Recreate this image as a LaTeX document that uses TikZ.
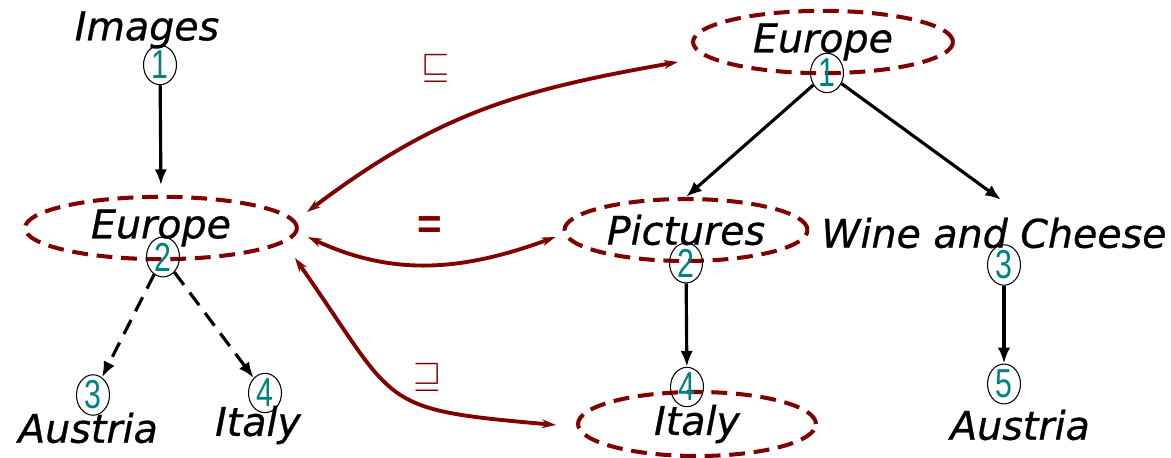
\documentclass[tikz,border=0pt]{standalone}
\usepackage{amsmath,amssymb}
\usepackage{fontspec}
\usepackage{tikz}
\usetikzlibrary{shapes.geometric,arrows.meta}
\setmainfont{DejaVu Sans}
\newfontfamily\wordfont{DejaVu Sans}[FakeBold=0.7]
\newfontfamily\numfont{Liberation Sans}
\definecolor{dred}{RGB}{128,0,0}
\definecolor{dteal}{RGB}{0,128,128}

\begin{document}
\begin{tikzpicture}[x=0.02cm,y=0.02cm,
    word/.style={font=\wordfont\itshape\fontsize{22.5}{26}\selectfont,inner sep=2pt},
    num/.style={ellipse,draw,line width=0.6pt,minimum width=0.66cm,minimum height=0.72cm,inner sep=0pt,text=dteal,font=\numfont\fontsize{23}{23}\selectfont},
    cls/.style={ellipse,draw=dred,line width=2.3pt,dash pattern=on 9pt off 5pt},
    tree/.style={-{Latex[length=9pt,width=7pt]},line width=1.8pt},
    rel/.style={{Stealth[length=8pt,width=5pt]}-{Stealth[length=8pt,width=5pt]},dred,line width=2.2pt},
    sym/.style={text=dred,font=\fontsize{21}{21}\selectfont}]

                \useasboundingbox (0,0) rectangle (1171,457);

                % 左の木
                \node[word] (imgL) at (147,427) {Images}; %Images
                \node[cls,word,minimum width=5.44cm,minimum height=1.22cm] (eL) at (161,229) {Europe}; %左 Europe
                \node[word] (ausL) at (88,29) {Austria}; %左 Austria
                \node[word] (itaL) at (258,32) {Italy}; %左 Italy

                % 右の木
                \node[cls,word,minimum width=5.2cm,minimum height=1.14cm] (eR) at (823,415) {\raisebox{-3pt}{Europe}}; %右 Europe
                \node[cls,word,minimum width=4.86cm,minimum height=1.24cm] (pic) at (686,227) {Pictures}; %Pictures
                \node[word] (wine) at (994,224) {Wine and Cheese}; %Wine and Cheese
                \node[cls,word,minimum width=4.76cm,minimum height=1.14cm] (itaR) at (697,33) {Italy}; %右 Italy
                \node[word] (ausR) at (1020,32) {Austria}; %右 Austria

                % 番号の丸
                \foreach \n/\x/\y/\k in {l1/160/392/1, l2/163/200/2, l3/93/62/3, l4/265/64/4,
                    r1/827/384/1, r2/686/194/2, r3/1004/192/3, r4/687/70/4, r5/1004/73/5}
                    \node[num] (\n) at (\x,\y) {\scalebox{0.75}[1]{\k}};

                \draw[tree,shorten >=5.5pt] (l1) -- (eL.north);
                \draw[tree,dash pattern=on 9pt off 5.5pt] (l2) -- (l3);
                \draw[tree,dash pattern=on 9pt off 5.5pt] (l2) -- (l4);
                \draw[tree] (r1) -- (pic.north);
                \draw[tree] (r1) -- ([xshift=4pt,yshift=8pt]wine.north);
                \draw[tree] (r2) -- (r4);
                \draw[tree] (r3) -- (r5);

                % 関係の矢印
                \draw[rel] ([shift={(8,16)}]eL.east) to[out=37,in=190,looseness=1.05] ([shift={(-13,-20)}]eR.west);
                \draw[rel] ([shift={(9,-9)}]eL.east) to[out=-25,in=-160] ([shift={(-7,-7)}]pic.west);
                \draw[rel] ([shift={(-4,-30)}]eL.east) to[out=-55,in=175,looseness=1.5] ([shift={(-20,-1)}]itaR.west);
                \node[sym] (subeq) at (436,389) {$\sqsubseteq$};
                \node[sym,font=\numfont\bfseries\fontsize{24}{24}\selectfont] (eq) at (430,229) {=};
                \node[sym] (supeq) at (428,80) {$\sqsupseteq$};

\end{tikzpicture}
\end{document}
